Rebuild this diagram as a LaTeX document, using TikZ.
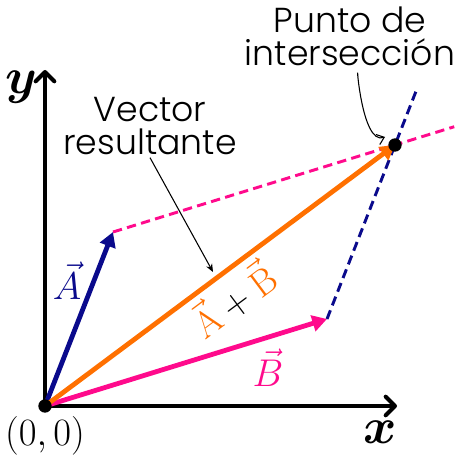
\RequirePackage{fix-cm}
\documentclass[tikz,border=0pt]{standalone}
\usepackage{amsmath}
\usepackage[no-math]{fontspec}
\IfFontExistsTF{Poppins Light}{\setmainfont{Poppins Light}}{\setmainfont{Poppins}}
\usetikzlibrary{arrows.meta,calc}
\definecolor{navyA}{RGB}{10,10,140}
\definecolor{orangeS}{RGB}{255,112,0}
\definecolor{pinkB}{RGB}{255,10,140}
\begin{document}
\begin{tikzpicture}[x=0.75pt,y=0.75pt,yscale=-1,xscale=1,
  axis/.style={line width=3pt,line cap=round,-{Straight Barb[length=7pt,width=14pt,line cap=round,line join=round]}},
  vecline/.style={line width=3.6pt,-{Triangle[length=11pt,width=12pt]}},
  guide/.style={line width=2.2pt,dash pattern=on 7pt off 4pt},
  callout/.style={line width=0.8pt,-{Stealth[length=6pt,width=5pt]}},
  dot/.style={circle,fill=black,inner sep=0pt,minimum size=10pt},
  lab/.style={font=\fontsize{26}{25}\selectfont,align=center}]
\useasboundingbox (0,0) rectangle (460,460);

%Points
\coordinate (origin) at (45,406);
\coordinate (tipA) at (113,232);
\coordinate (tipB) at (327,319);
\coordinate (tipS) at (395,145);
\coordinate (yEnd) at (45,70);
\coordinate (xEnd) at (397,406);
\coordinate (guideA) at ($(tipA)!1.21!(tipS)$);
\coordinate (guideB) at ($(tipB)!1.33!(tipS)$);

%Straight Lines: axes
\draw [axis] (origin) -- (yEnd);
\draw [axis] (origin) -- (xEnd);

%Dashed Lines
\draw [guide,color=pinkB] (tipA) -- (guideA);
\draw [guide,color=navyA] (tipB) -- (guideB);

%Vectors
\draw [vecline,color=navyA] (origin) -- (tipA);
\draw [vecline,color=pinkB] (origin) -- (tipB);
\draw [vecline,color=orangeS] (origin) -- (tipS);

%Dots
\node [dot] (dotO) at (origin) {};
\node [dot] (dotX) at (tipS) {};

%Text Nodes
\node (labY) at (21,87) {\fontsize{38}{38}\selectfont$\boldsymbol{y}$};
\node (labX) at (380,432) {\fontsize{38}{38}\selectfont$\boldsymbol{x}$};
\node (labO) at (45,436) {\fontsize{29}{29}\selectfont$(0,0)$};
\node [color=navyA] (labA) at (67,281) {\fontsize{29}{29}\selectfont$\vec{A}$};
\node [color=pinkB] (labB) at (268,368) {\fontsize{29}{29}\selectfont$\vec{B}$};
\node [color=orangeS,rotate=36.7] (labS) at (233,299) {\fontsize{28}{28}\selectfont$\vec{\mathrm{A}}\mathbin{\color{black}+}\vec{\mathrm{B}}$};
\node [lab] (labVector) at (150,126) {Vector\\resultante};
\node [lab] (labPunto) at (350,36) {Punto de\\intersección};

%Callouts
\draw [callout] (labVector.south) ++(0,-2) coordinate (vStart) -- (213,272) coordinate (vEnd);
\draw [callout,-{Straight Barb[length=5pt,width=8pt]}] (358,77) coordinate (pStart) to[out=265,in=160] (385,137) coordinate (pEnd);

\end{tikzpicture}
\end{document}
